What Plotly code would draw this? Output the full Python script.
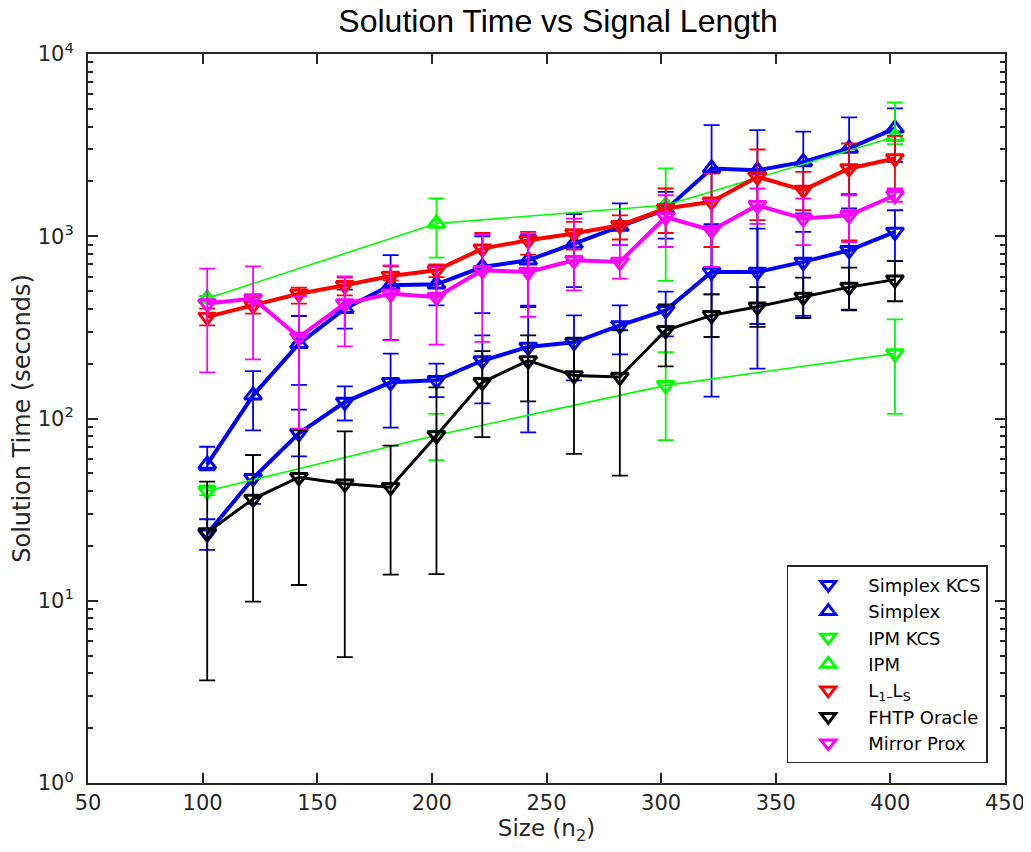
"""
Solution time vs signal length: log-scale comparison of solvers
with asymmetric error bars.
"""

import plotly.graph_objects as go

# signal sizes (n_2)
sizes = [102, 122, 142, 162, 182, 202, 222, 242, 262, 282, 302, 322, 342, 362, 382, 402]
sizes_ipm = [102, 202, 302, 402]

# solution times (seconds) with lower / upper bar ends
simplex_kcs = [23.3, 47, 83, 123, 158, 162, 208, 247, 262, 324, 392, 637, 637, 723, 838, 1056]
simplex_kcs_lo = [19, 34, 62, 97.5, 89, 131, 121, 84, 162, 225, 282, 480, 330, 366, 396, 731]
simplex_kcs_hi = [28, 63, 112, 150, 227, 200, 286, 416, 368, 418, 497, 1164, 1102, 1056, 1420, 1389]

simplex = [56, 134, 257, 400, 538, 545, 678, 738, 912, 1130, 1400, 2355, 2300, 2559, 3034, 3908]
simplex_lo = [52, 86, 153, 311, 270, 418, 379, 409, 526, 893, 970, 132, 188, 1334, 1700, 2559]
simplex_hi = [70, 182, 365, 509, 787, 693, 1000, 1020, 1321, 1514, 1750, 4074, 3821, 3749, 4488, 5030]

ipm_kcs = [40, 81, 152, 227]
ipm_kcs_lo = [38, 59, 76, 106]
ipm_kcs_hi = [43, 106, 231, 350]

ipm = [455, 1175, 1480, 3514]
ipm_lo = [440, 763, 569, 3200]
ipm_hi = [470, 1611, 2355, 5420]

l1ls = [361, 418, 484, 538, 605, 650, 855, 951, 1035, 1148, 1419, 1545, 2118, 1791, 2355, 2672]
l1ls_lo = [324, 376, 427, 474, 573, 597, 650, 792, 845, 960, 1042, 873, 1225, 1389, 950, 1791]
l1ls_hi = [401, 464, 523, 593, 684, 701, 1042, 1056, 1200, 1303, 1828, 2208, 2993, 2254, 3228, 3550]

fhtp = [23.7, 36.2, 47.6, 43.8, 42, 80.7, 158, 208, 172, 169, 305, 368, 410, 464, 526, 578]
fhtp_lo = [3.66, 9.9, 12.2, 4.9, 13.9, 14, 79, 124, 64, 48.6, 193, 280, 318, 356, 392, 440]
fhtp_hi = [45, 63, 86, 85, 71, 148, 234, 286, 278, 305, 423, 480, 526, 593, 673, 731]

mirror = [427, 455, 280, 427, 484, 464, 650, 637, 738, 723, 1276, 1079, 1479, 1250, 1303, 1679]
mirror_lo = [179, 211, 88, 249, 268, 254, 263, 361, 505, 586, 873, 678, 1170, 893, 930, 1545]
mirror_hi = [664, 684, 470, 603, 693, 677, 1021, 1035, 1250, 893, 1679, 1578, 1828, 1611, 1679, 1828]

# y axis decades and their labels
y_ticks = [1, 10, 100, 1000, 10000]
y_ticktext = ["10<sup>0</sup>", "10<sup>1</sup>", "10<sup>2</sup>", "10<sup>3</sup>", "10<sup>4</sup>"]

BLUE = "#0000ff"
GREEN = "#00ff00"
RED = "#ff0000"
BLACK = "#000000"
MAGENTA = "#ff00ff"
AXIS = "#262626"

series = [
    # name, x, y, lo, hi, color, symbol, line width
    ("Simplex KCS", sizes, simplex_kcs, simplex_kcs_lo, simplex_kcs_hi, BLUE, "triangle-down-open", 4),
    ("Simplex", sizes, simplex, simplex_lo, simplex_hi, BLUE, "triangle-up-open", 4),
    ("IPM KCS", sizes_ipm, ipm_kcs, ipm_kcs_lo, ipm_kcs_hi, GREEN, "triangle-down-open", 1.6),
    ("IPM", sizes_ipm, ipm, ipm_lo, ipm_hi, GREEN, "triangle-up-open", 1.6),
    ("L<sub>1–</sub>L<sub>S</sub>", sizes, l1ls, l1ls_lo, l1ls_hi, RED, "triangle-down-open", 4),
    ("FHTP Oracle", sizes, fhtp, fhtp_lo, fhtp_hi, BLACK, "triangle-down-open", 3),
    ("Mirror Prox", sizes, mirror, mirror_lo, mirror_hi, MAGENTA, "triangle-down-open", 4),
]

fig = go.Figure()

for name, xs, ys, lo, hi, color, symbol, lw in series:
    fig.add_trace(go.Scatter(
        x=xs, y=ys, mode="lines+markers", name=name, showlegend=False,
        line=dict(color=color, width=lw),
        marker=dict(symbol=symbol, size=15, color=color, line=dict(color=color, width=3)),
        error_y=dict(type="data", symmetric=False,
                     array=[h - v for h, v in zip(hi, ys)],
                     arrayminus=[v - l for v, l in zip(ys, lo)],
                     color=color, thickness=1.8, width=8),
    ))

# legend shows markers only
for name, xs, ys, lo, hi, color, symbol, lw in series:
    fig.add_trace(go.Scatter(
        x=[None], y=[None], mode="markers", name=name,
        marker=dict(symbol=symbol, size=13, color=color, line=dict(color=color, width=3)),
    ))

# page body adds an 8px offset, so margins are shifted by that amount
fig.update_layout(
    width=1031, height=852,
    paper_bgcolor="white", plot_bgcolor="white",
    margin=dict(l=80, r=34, t=46, b=77, autoexpand=False),
    font=dict(family="DejaVu Sans", color=AXIS),
    title=dict(text="Solution Time vs Signal Length", x=0.5335, xanchor="center",
               y=0.985, yanchor="middle", automargin=False,
               font=dict(family="Liberation Sans", size=32, color="#000000")),
    legend=dict(x=0.762, y=0.299, xanchor="left", yanchor="top",
                bgcolor="white", bordercolor=AXIS, borderwidth=1.5,
                font=dict(size=18, color="#000000"), itemwidth=70),
)

fig.update_xaxes(
    range=[50, 450], dtick=50, tick0=50, automargin=False,
    showline=True, linecolor=AXIS, linewidth=2, mirror="allticks",
    ticks="inside", ticklen=10, tickwidth=1.5, tickcolor=AXIS,
    showgrid=False, zeroline=False,
    tickfont=dict(size=21, color=AXIS),
    title=dict(text="Size (n<sub>2</sub>)", font=dict(size=23, color=AXIS), standoff=6),
)

fig.update_yaxes(
    type="log", range=[0, 4], tickvals=y_ticks, ticktext=y_ticktext, automargin=False,
    showline=True, linecolor=AXIS, linewidth=2, mirror="allticks",
    ticks="inside", ticklen=10, tickwidth=1.5, tickcolor=AXIS, ticklabelstandoff=8,
    minor=dict(ticks="inside", ticklen=5, tickwidth=1.5, tickcolor=AXIS, dtick="D1", showgrid=False),
    showgrid=False, zeroline=False,
    tickfont=dict(size=21, color=AXIS),
    title=dict(text="Solution Time (seconds)", font=dict(size=24, color=AXIS), standoff=3),
)

fig.write_html("out.html")
